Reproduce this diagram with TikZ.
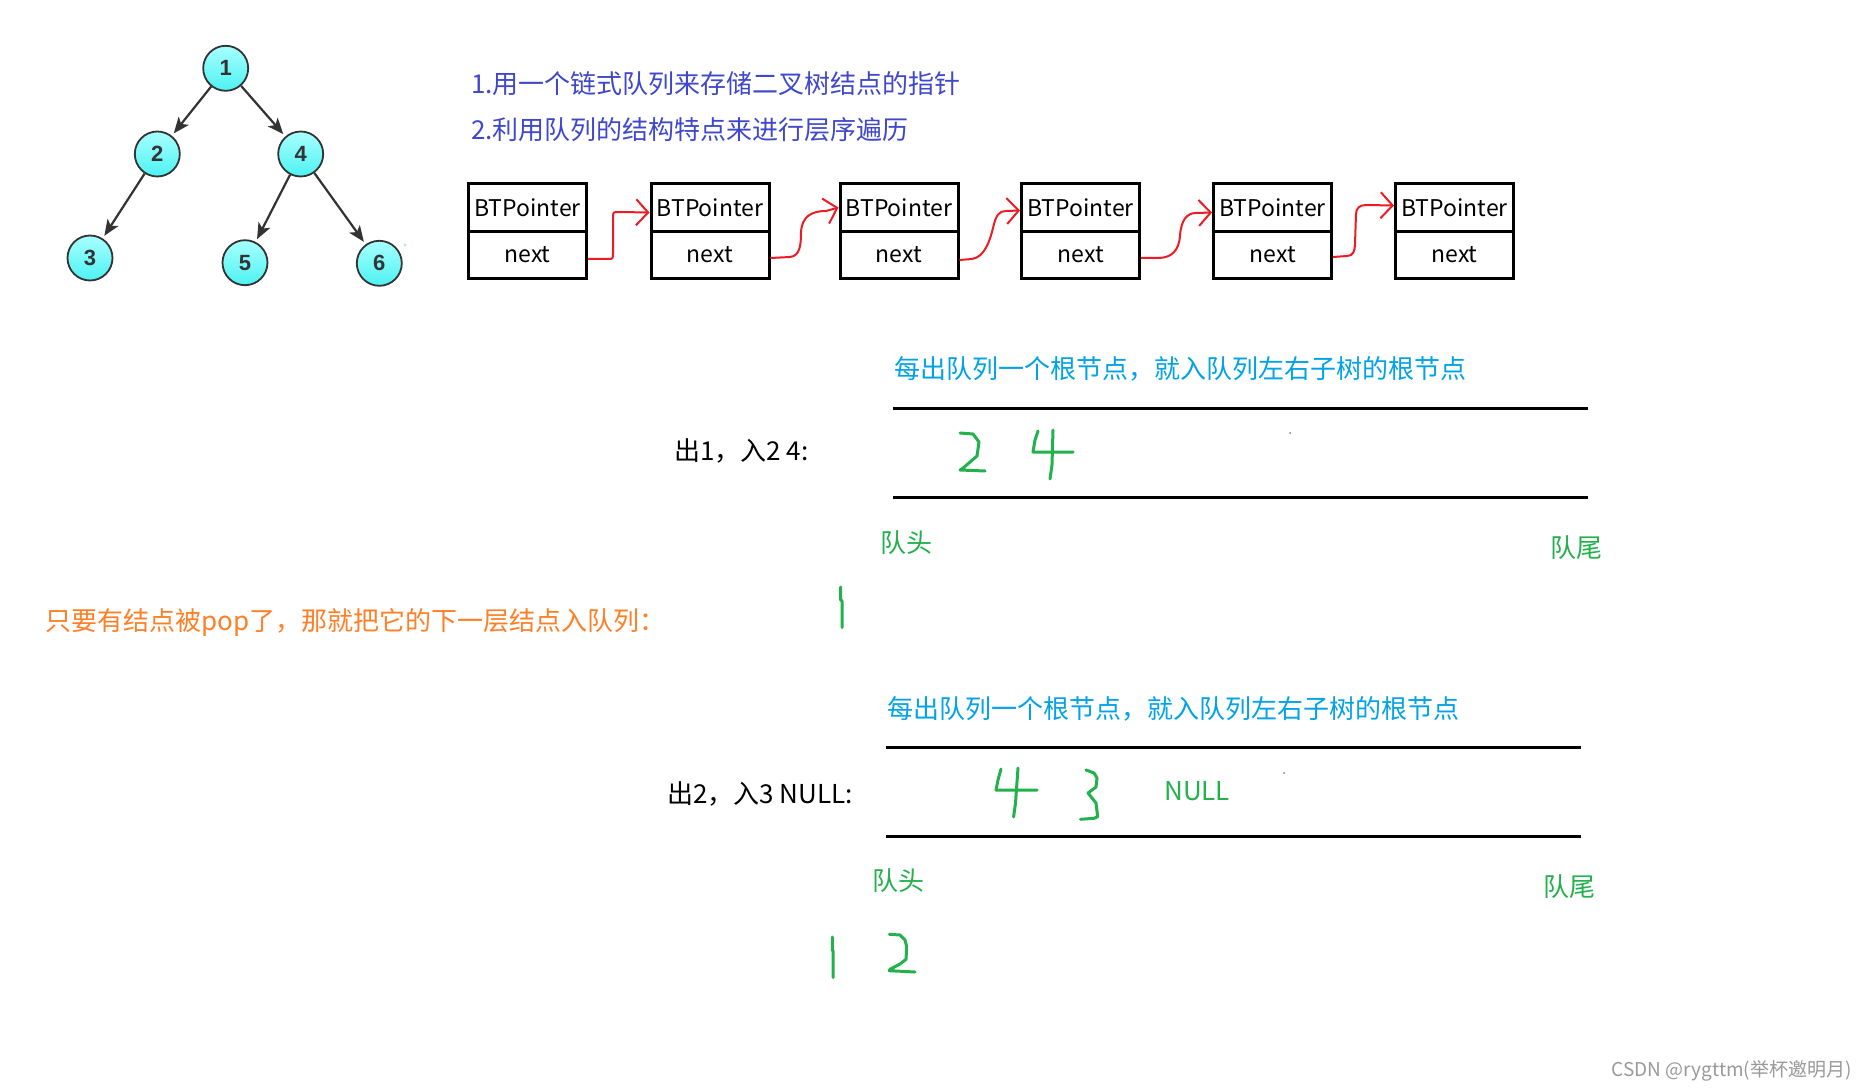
\documentclass[tikz,border=0pt]{standalone}
\usepackage{fontspec}
\setmainfont{Noto Sans CJK SC}
\newfontfamily\treefont{Liberation Sans}
\usetikzlibrary{arrows.meta}
\definecolor{indigo}{HTML}{3F48CC}
\definecolor{skyb}{HTML}{00A2E8}
\definecolor{grn}{HTML}{22B14C}
\definecolor{orng}{HTML}{FF7F27}
\definecolor{redl}{HTML}{ED1C24}
\definecolor{cyanhi}{HTML}{A8FFFF}
\definecolor{cyanlo}{HTML}{4DF2F2}
\definecolor{wmgray}{HTML}{999999}
\definecolor{dk}{HTML}{333333}
\tikzset{
 tnode/.style={circle, draw=dk, line width=1.8pt, top color=cyanhi, bottom color=cyanlo, minimum size=45pt, inner sep=0pt, font=\treefont\bfseries\fontsize{22}{22}\selectfont, text=dk},
 tedge/.style={draw=dk, line width=2.2pt, -{Stealth[length=16pt,width=13pt,inset=4pt]}, shorten >=3pt},
 cell/.style={draw, line width=3pt, minimum width=118pt, minimum height=47.5pt, inner sep=0pt, font=\fontsize{23}{23}\selectfont},
 redarr/.style={draw=redl, line width=2pt, line join=round, -{Straight Barb[length=12pt,width=26pt,line width=2pt]}},
 txt/.style={anchor=west, inner sep=0pt, font=\fontsize{26}{26}\selectfont},
 qline/.style={line width=3pt},
 hand/.style={draw=grn, line width=3pt, line cap=round, line join=round},
}
\begin{document}
\begin{tikzpicture}[x=1pt,y=-1pt]
\fill[white] (0,0) rectangle (1864,1091);
\useasboundingbox (0,0) rectangle (1864,1091);
% tree
\node[tnode] (t1) at (225.7,68.3) {1};
\node[tnode] (t2) at (157.3,154) {2};
\node[tnode] (t4) at (300.7,154) {4};
\node[tnode] (t3) at (90,258) {3};
\node[tnode] (t5) at (245,262.7) {5};
\node[tnode] (t6) at (379.3,263.3) {6};
\draw[tedge] (t1) -- (t2);
\draw[tedge] (t1) -- (t4);
\draw[tedge] (t2) -- (t3);
\draw[tedge] (t4) -- (t5);
\draw[tedge] (t4) -- (t6);
\fill[cyan!35] (405,245) circle (1.5);
% top texts
\node[txt, text=indigo] (l1) at (471,84) {1.用一个链式队列来存储二叉树结点的指针};
\node[txt, text=indigo] (l2) at (471,129.5) {2.利用队列的结构特点来进行层序遍历};
% boxes
\node[cell] (p1) at (527.5,207.5) {BTPointer};
\node[cell] (n1) at (527.5,255) {next};
\node[cell] (p2) at (710,207.5) {BTPointer};
\node[cell] (n2) at (710,255) {next};
\node[cell] (p3) at (899,207.5) {BTPointer};
\node[cell] (n3) at (899,255) {next};
\node[cell] (p4) at (1080.6,207.5) {BTPointer};
\node[cell] (n4) at (1080.6,255) {next};
\node[cell] (p5) at (1272.6,207.5) {BTPointer};
\node[cell] (n5) at (1272.6,255) {next};
\node[cell] (p6) at (1454.5,207.5) {BTPointer};
\node[cell] (n6) at (1454.5,255) {next};
% red arrows
\draw[redarr] ([yshift=-4pt]n1.east) -- (608,259) .. controls (613,259) .. (613,252) -- (613,218) .. controls (613,212) .. (619,212) -- ([yshift=-5pt]p2.west);
\draw[redarr] ([yshift=-3pt]n2.east) -- (790,257) .. controls (800,256) and (801,245) .. (801,232) .. controls (802,216) and (812,211) .. (826,211) -- (p3.west);
\draw[redarr] ([yshift=-5pt]n3.east) -- (972,259) .. controls (985,257) and (990,240) .. (993,228) .. controls (996,215) and (999,211) .. (1006,211) -- ([yshift=-3pt]p4.west);
\draw[redarr] ([yshift=-3pt]n4.east) -- (1158,258) .. controls (1172,258) and (1179,250) .. (1180,236) .. controls (1181,220) and (1187,213) .. (1196,213) -- ([yshift=-5pt]p5.west);
\draw[redarr] ([yshift=-2pt]n5.east) -- (1347,256) .. controls (1353,256) and (1355,251) .. (1355,244) -- (1356,214) .. controls (1356,208) and (1360,205) .. (1366,205) -- ([yshift=2pt]p6.west);
% section 1
\node[txt, text=skyb] (h1) at (894,369) {每出队列一个根节点，就入队列左右子树的根节点};
\draw[qline] (893,408) -- (1588,408);
\draw[qline] (893,497) -- (1588,497);
\node[txt] (o1) at (674,451) {出1，入2 4:};
\draw[hand] (960,433) -- (973,434) -- (979,442) -- (977,456) -- (962,469) -- (960,470) -- (985,471);
\draw[hand] (1038,431) -- (1035,440) -- (1033,452) -- (1073,452);
\draw[hand] (1053,430) -- (1052,465) -- (1050,479);
\fill[gray] (1290,433) circle (1);
\node[txt, text=grn] (qh1) at (880,542.5) {队头};
\node[txt, text=grn] (qt1) at (1550,548) {队尾};
\draw[hand] (840.7,587) -- (840.7,600) -- (842,601) -- (842,627.5);
\node[txt, text=orng] (pop) at (45,622.5) {只要有结点被pop了，那就把它的下一层结点入队列：};
% section 2
\node[txt, text=skyb] (h2) at (887,709) {每出队列一个根节点，就入队列左右子树的根节点};
\draw[qline] (886,747) -- (1581,747);
\draw[qline] (886,836) -- (1581,836);
\node[txt] (o2) at (667,794) {出2，入3 NULL:};
\draw[hand] (1001,769) -- (998,780) -- (996,790) -- (1037,790);
\draw[hand] (1018,768) -- (1015.5,803) -- (1013.6,817);
\draw[hand] (1086,770) -- (1094,773) -- (1097,778) -- (1096,787) -- (1088,793) -- (1096,803) -- (1097.7,816.7) -- (1094,818.3) -- (1080.5,819.3);
\node[txt, text=grn] (null) at (1164,791.5) {NULL};
\fill[gray] (1284,773) circle (1);
\node[txt, text=grn] (qh2) at (872,881) {队头};
\node[txt, text=grn] (qt2) at (1543,887) {队尾};
\draw[hand] (832.3,937) -- (832.3,950) -- (833,951) -- (833,977.5);
\draw[hand] (889.3,934.3) -- (900,935) -- (905,940) -- (906.7,946.7) -- (906,959.3) -- (900,964) -- (890,969.3) -- (889.3,970.7) -- (915,972);
% watermark
\node[anchor=east, inner sep=0pt, text=wmgray, font=\fontsize{19}{19}\selectfont] (wm) at (1852,1071) {CSDN @rygttm(举杯邀明月)};
\end{tikzpicture}
\end{document}
